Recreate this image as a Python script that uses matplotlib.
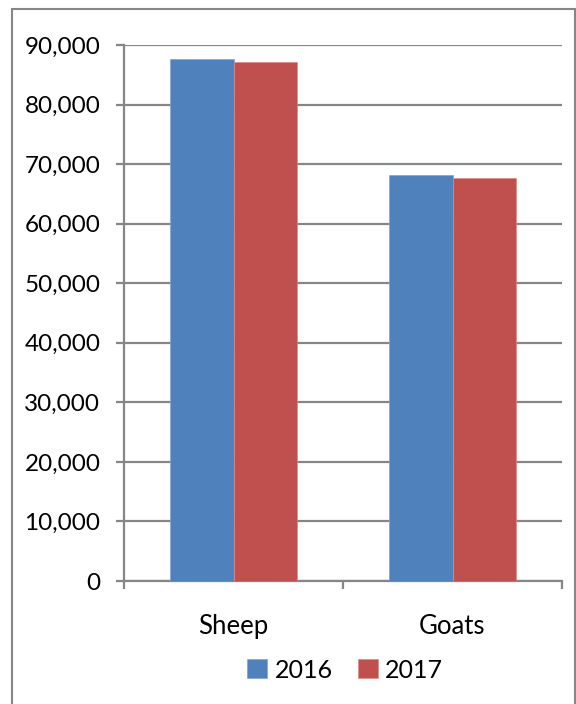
import matplotlib.pyplot as plt
import numpy as np
from matplotlib.patches import Rectangle

plt.rcParams['font.family'] = ['Lato', 'DejaVu Sans']

categories = ['Sheep', 'Goats']
years = ['2016', '2017']
values_2016 = [87600, 68100]
values_2017 = [87200, 67700]
colors = ['#4F81BD', '#C0504D']
grid_color = '#868686'

fig = plt.figure(figsize=(5.76, 7.04), dpi=100)
ax = fig.add_axes([124/576, 1-581/704, (562-124)/576, (581-45)/704])

x = np.arange(len(categories))
w = 0.29
ax.bar(x - w/2, values_2016, w, color=colors[0], edgecolor='#7FA3D3', linewidth=0.5, label=years[0], zorder=3)
ax.bar(x + w/2, values_2017, w, color=colors[1], edgecolor='#E08A88', linewidth=0.5, label=years[1], zorder=3)

ax.set_xlim(-0.5, 1.5)
ax.set_ylim(0, 90000)
ax.set_yticks(np.arange(0, 90001, 10000))
ax.set_yticklabels([f'{v:,}' for v in range(0, 90001, 10000)])
ax.yaxis.grid(True, color=grid_color, linewidth=1.6, zorder=0)
ax.set_axisbelow(True)

ax.set_xticks(x)
ax.set_xticklabels(categories)
ax.set_xticks([-0.5, 0.5, 1.5], minor=True)
ax.tick_params(axis='x', which='major', length=0, pad=24, labelsize=18.5)
ax.tick_params(axis='x', which='minor', length=6, width=1.6, color=grid_color)
ax.tick_params(axis='y', length=6, width=1.6, color=grid_color, pad=11, labelsize=17.5)

for s in ['top', 'right']:
    ax.spines[s].set_visible(False)
for s in ['left', 'bottom']:
    ax.spines[s].set_color(grid_color)
    ax.spines[s].set_linewidth(1.6)

ax.legend(loc='center', bbox_to_anchor=(345/576, 1-670/704), bbox_transform=fig.transFigure,
          ncol=2, frameon=False, fontsize=18, handlelength=0.8, handleheight=0.8,
          handletextpad=0.3, columnspacing=1.0)

# outer chart border, bottom edge sits below the image
fig.patches.append(Rectangle((12/576, -0.05), (575-12)/576, 1.05-9/704, transform=fig.transFigure,
                             fill=False, edgecolor=grid_color, linewidth=1.5))

fig.savefig('out.png', dpi=100)
